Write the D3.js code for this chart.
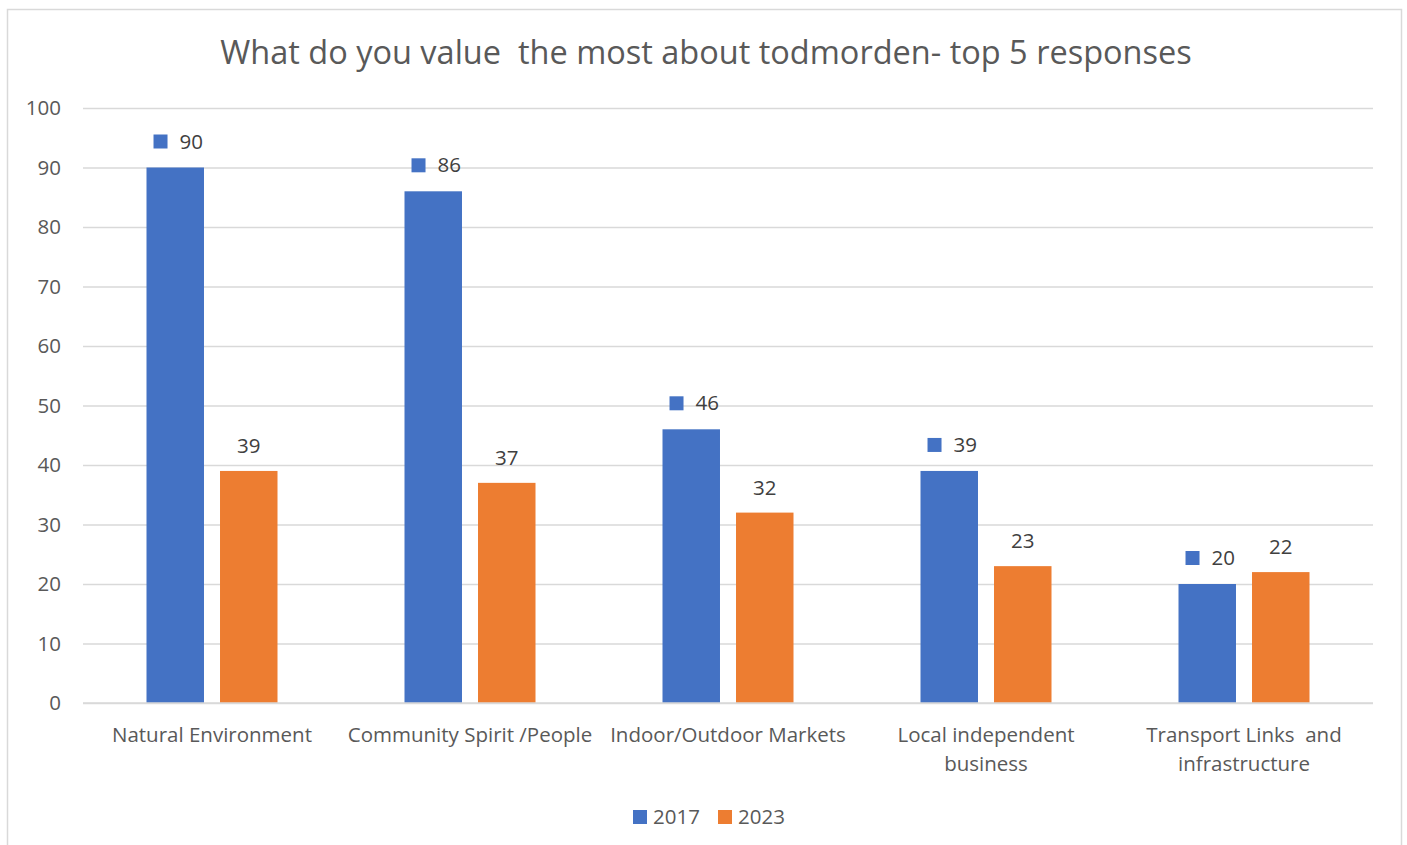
<!DOCTYPE html>
<html><head><meta charset="utf-8">
<script src="https://cdn.jsdelivr.net/npm/d3@7"></script>
<style>body{margin:0;background:#fff;} svg{display:block;}</style>
</head><body>
<script>
const categories = [["Natural Environment"],["Community Spirit /People"],["Indoor/Outdoor Markets"],["Local independent","business"],["Transport Links  and","infrastructure"]];
const catKeys = ["Natural Environment","Community Spirit /People","Indoor/Outdoor Markets","Local independent business","Transport Links  and infrastructure"];
const seriesNames = ["2017","2023"];
const values2017 = [90,86,46,39,20];
const values2023 = [39,37,32,23,22];
const yTicks = [0,10,20,30,40,50,60,70,80,90,100];
const title = "What do you value  the most about todmorden- top 5 responses";
const colors = ["#4472c4","#ed7d31"];
const seriesValues = [values2017, values2023];

(function(){
const W=1407,H=845;
const font = "'Open Sans', 'Noto Sans', sans-serif";
const fs = 20.5;
const svg = d3.select("body").append("svg").attr("width",W).attr("height",H);
svg.append("rect").attr("x",7.5).attr("y",9.5).attr("width",1394).attr("height",850).attr("fill","#fff").attr("stroke","#d9d9d9").attr("stroke-width",1.5);

const pL=83,pR=1373,pT=108,pB=703;
const x0 = d3.scaleBand().domain(catKeys).range([pL,pR]).padding(0);
const outer = 63.5;
const x1 = d3.scaleBand().domain(seriesNames).range([outer, x0.bandwidth()-outer]).paddingInner(0.218);
const y = d3.scaleLinear().domain([0,100]).range([pB,pT]);

svg.append("text").attr("x",706).attr("y",53).attr("dy","0.35em").attr("text-anchor","middle").attr("font-family",font).attr("font-size",32.5).attr("fill","#595959").style("white-space","pre").text(title);

const yAxis = d3.axisLeft(y).tickValues(yTicks).tickSize(-(pR-pL)).tickPadding(22);
const ga = svg.append("g").attr("transform",`translate(${pL},0)`).call(yAxis);
ga.select(".domain").remove();
ga.selectAll(".tick line").attr("stroke","#d9d9d9").attr("stroke-width",1.5);
ga.selectAll(".tick text").attr("font-family",font).attr("font-size",fs).attr("fill","#595959");

const groups = svg.append("g").selectAll("g").data(catKeys).join("g").attr("transform",d=>`translate(${x0(d)},0)`);
seriesNames.forEach((s,si)=>{
  groups.append("rect").attr("x",x1(s)).attr("y",(d,i)=>y(seriesValues[si][i])).attr("width",x1.bandwidth()).attr("height",(d,i)=>y(0)-y(seriesValues[si][i])).attr("fill",colors[si]);
});
svg.append("line").attr("x1",pL).attr("x2",pR).attr("y1",y(0)).attr("y2",y(0)).attr("stroke","#d9d9d9").attr("stroke-width",1.5);

catKeys.forEach((c,i)=>{
  const cx = x0(c)+x1("2017")+x1.bandwidth()/2 + 3;
  const v = values2017[i];
  const ly = y(v)-26;
  const t = svg.append("text").attr("y",ly).attr("dy","0.35em").attr("font-family",font).attr("font-size",fs).attr("fill","#404040").text(v);
  const tw = t.node().getComputedTextLength();
  const total = 14+12+tw;
  const sx = cx-total/2;
  svg.append("rect").attr("x",sx).attr("y",ly-7).attr("width",14).attr("height",14).attr("fill",colors[0]);
  t.attr("x",sx+26);
  const cx2 = x0(c)+x1("2023")+x1.bandwidth()/2;
  const v2 = values2023[i];
  svg.append("text").attr("x",cx2).attr("y",y(v2)-25).attr("dy","0.35em").attr("text-anchor","middle").attr("font-family",font).attr("font-size",fs).attr("fill","#404040").text(v2);
  const ct = svg.append("text").attr("text-anchor","middle").attr("font-family",font).attr("font-size",fs).attr("fill","#595959").style("white-space","pre");
  categories[i].forEach((line,li)=>{
    ct.append("tspan").attr("x",x0(c)+x0.bandwidth()/2).attr("y",735+li*29).attr("dy","0.35em").text(line);
  });
});

const legend = [{x:633,name:seriesNames[0],c:colors[0]},{x:718,name:seriesNames[1],c:colors[1]}];
legend.forEach(l=>{
  svg.append("rect").attr("x",l.x).attr("y",810).attr("width",14).attr("height",14).attr("fill",l.c);
  svg.append("text").attr("x",l.x+20).attr("y",817).attr("dy","0.35em").attr("font-family",font).attr("font-size",fs).attr("fill","#595959").text(l.name);
});
})();
</script>
</body></html>
